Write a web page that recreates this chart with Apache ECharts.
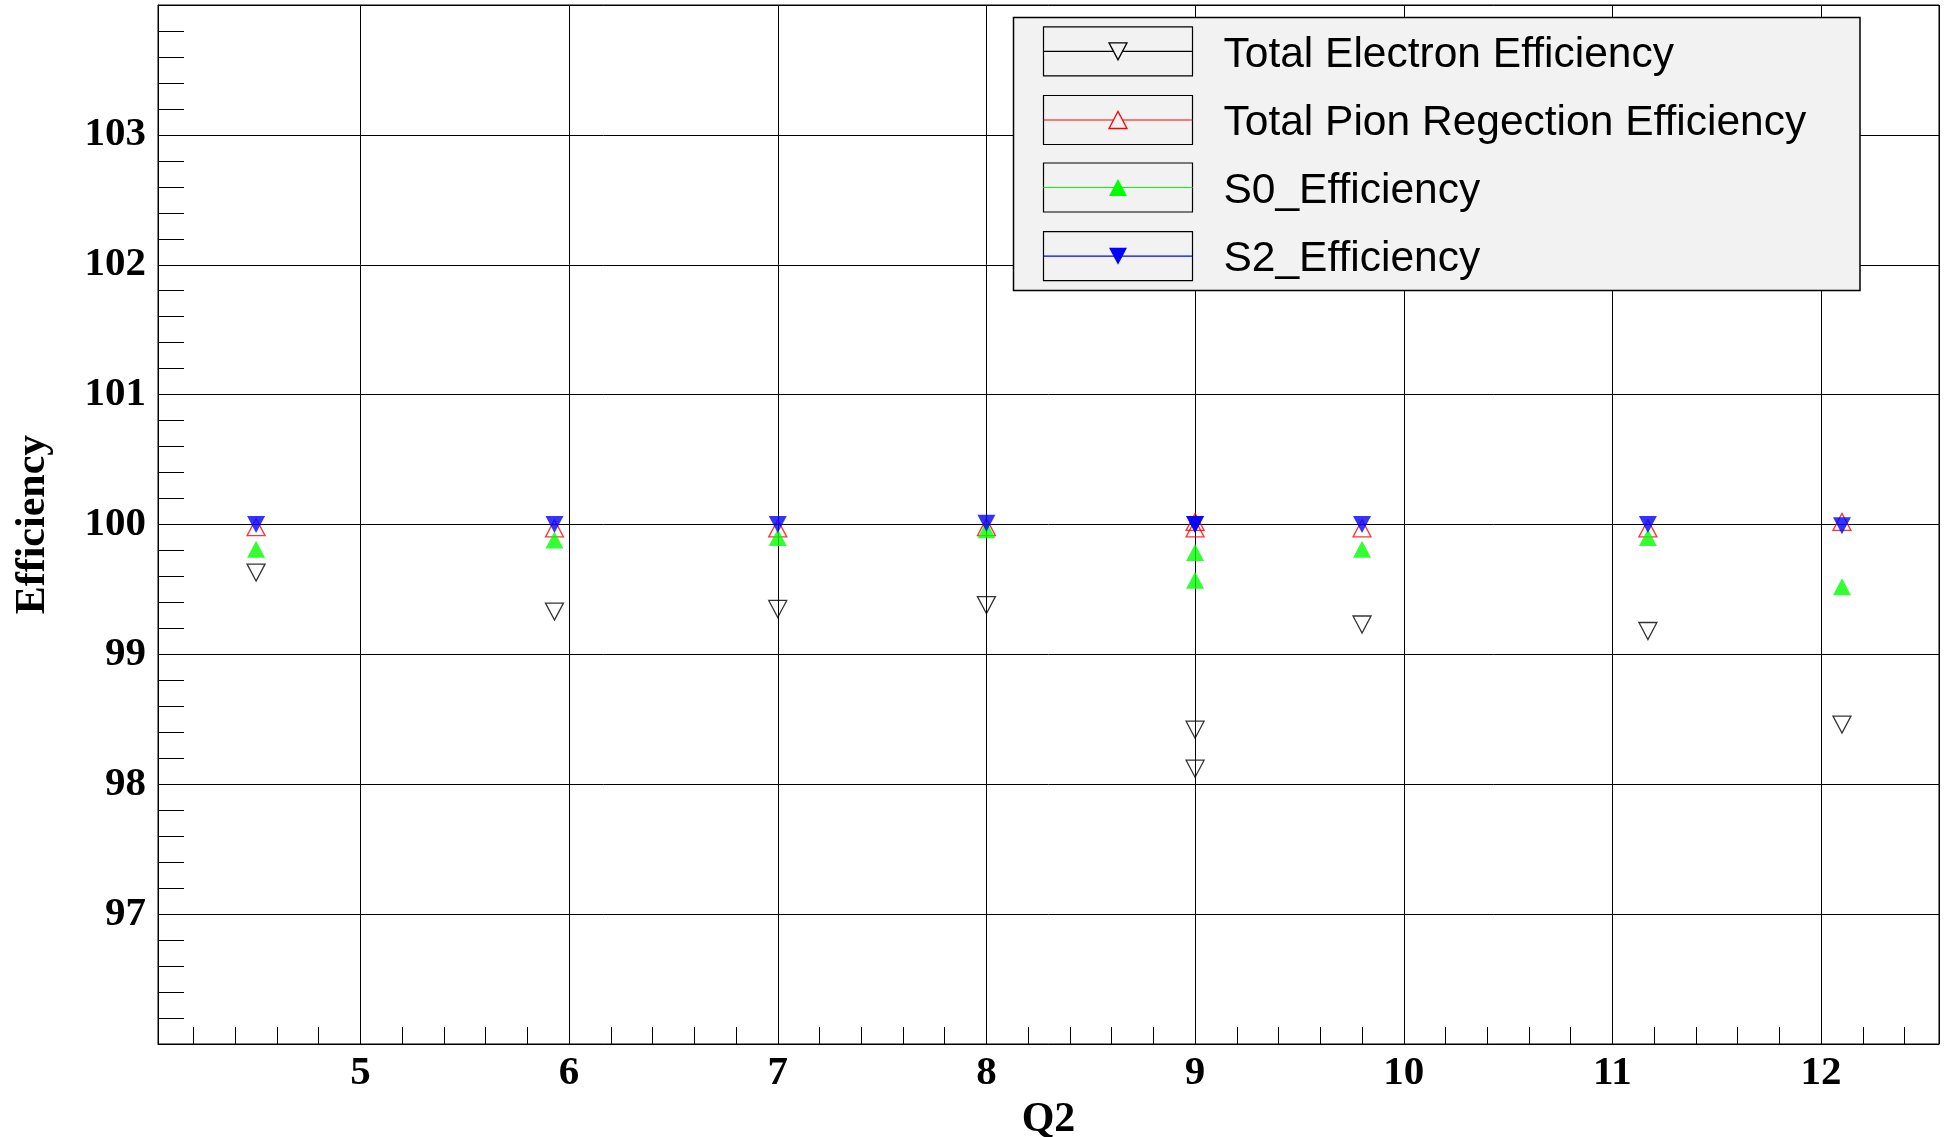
<!DOCTYPE html>
<html>
<head>
    <meta charset="utf-8">
    <title>Efficiency vs Q2</title>
    <script src="https://cdn.jsdelivr.net/npm/echarts@6/dist/echarts.min.js"></script>
    <style>
        html, body { margin: 0; padding: 0; background: #fff; }
        #chart { width: 1948px; height: 1137px; }
    </style>
</head>
<body>
    <div id="chart"></div>
    <script>
        // Q2 bins (two runs at Q2 = 9)
        var q2 = [4.5, 5.93, 7.0, 8.0, 9.0, 9.0, 9.8, 11.17, 12.1];

        var electronEff = [99.63, 99.33, 99.35, 99.38, 98.42, 98.12, 99.23, 99.18, 98.46];
        var pionRejEff  = [99.98, 99.97, 99.97, 99.98, 100.02, 99.97, 99.97, 99.97, 100.02];
        var s0Eff       = [99.81, 99.88, 99.90, 99.96, 99.785, 99.57, 99.81, 99.90, 99.52];
        var s2Eff       = [100.0, 100.0, 100.0, 100.01, 100.0, 100.0, 100.0, 100.0, 99.99];

        var seriesNames = ['Total Electron Efficiency', 'Total Pion Regection Efficiency', 'S0_Efficiency', 'S2_Efficiency'];
        var seriesColors = ['#000000', '#ff0000', '#00ff00', '#0000ff'];
        var seriesFilled = [false, false, true, true];
        var seriesDown = [true, false, false, true];
        var seriesValues = [electronEff, pionRejEff, s0Eff, s2Eff];

        var xRange = [4.03, 12.565];
        var yRange = [96, 104];

        function pairs(ys) {
            var out = [];
            for (var i = 0; i < q2.length; i++) out.push([q2[i], ys[i]]);
            return out;
        }

        var series = [];
        for (var s = 0; s < seriesNames.length; s++) {
            series.push({
                name: seriesNames[s],
                type: 'scatter',
                data: pairs(seriesValues[s]),
                symbol: 'triangle',
                symbolRotate: seriesDown[s] ? 180 : 0,
                symbolSize: [18, 17],
                z: 2 + s,
                itemStyle: seriesFilled[s]
                    ? { color: seriesColors[s], borderWidth: 0 }
                    : { color: 'rgba(255,255,255,0)', borderColor: seriesColors[s], borderWidth: 1.3 }
            });
        }

        // ROOT style legend box drawn by hand
        var legendLeft = 1013.5, legendTop = 17.5, legendW = 846.5, legendH = 273;
        var rowCenters = [51.3, 120, 187.5, 256.2];
        var graphics = [{
            type: 'rect',
            shape: { x: legendLeft, y: legendTop, width: legendW, height: legendH },
            style: { fill: '#f2f2f2', stroke: '#000', lineWidth: 1.5 },
            z: 20
        }];
        for (var k = 0; k < seriesNames.length; k++) {
            var cy = rowCenters[k], cx = 1118;
            graphics.push({
                type: 'rect',
                shape: { x: 1043.5, y: cy - 24.5, width: 149, height: 49 },
                style: { fill: '#f2f2f2', stroke: '#000', lineWidth: 1.2 },
                z: 21
            });
            graphics.push({
                type: 'line',
                shape: { x1: 1043.5, y1: cy, x2: 1192.5, y2: cy },
                style: { stroke: seriesColors[k], lineWidth: 1.2 },
                z: 22
            });
            var pts = seriesDown[k]
                ? [[cx - 9, cy - 8.5], [cx + 9, cy - 8.5], [cx, cy + 8.5]]
                : [[cx - 9, cy + 8.5], [cx + 9, cy + 8.5], [cx, cy - 8.5]];
            graphics.push({
                type: 'polygon',
                shape: { points: pts },
                style: seriesFilled[k]
                    ? { fill: seriesColors[k] }
                    : { fill: '#f2f2f2', stroke: seriesColors[k], lineWidth: 1.3 },
                z: 23
            });
            graphics.push({
                type: 'text',
                x: 1223.5,
                y: cy + 3.5,
                style: {
                    text: seriesNames[k],
                    fontFamily: 'Liberation Sans',
                    fontSize: 42.5,
                    fill: '#000',
                    verticalAlign: 'middle',
                    align: 'left'
                },
                z: 23
            });
        }

        var labelFont = { fontFamily: 'Liberation Serif', fontWeight: 'bold', fontSize: 41, color: '#000' };
        var nameFont = { fontFamily: 'Liberation Serif', fontWeight: 'bold', fontSize: 42, color: '#000' };

        var myChart = echarts.init(document.getElementById('chart'));
        var option = {
            animation: false,
            backgroundColor: '#fff',
            grid: {
                left: 158, right: 9, top: 5, bottom: 93,
                outerBoundsMode: 'none',
                show: true, borderColor: '#000', borderWidth: 1
            },
            xAxis: {
                type: 'value',
                min: xRange[0],
                max: xRange[1],
                splitNumber: 8,
                minInterval: 1,
                maxInterval: 1,
                name: 'Q2',
                nameLocation: 'middle',
                nameGap: 43,
                nameTextStyle: nameFont,
                axisLine: { lineStyle: { color: '#000', width: 1 } },
                axisTick: { inside: true, length: 17, lineStyle: { color: '#000' } },
                minorTick: { show: true, splitNumber: 5, length: 17, lineStyle: { color: '#000' } },
                splitLine: { show: true, lineStyle: { color: '#000', width: 1 } },
                axisLabel: Object.assign({
                    margin: 9,
                    formatter: function (v) { return Number.isInteger(v) ? String(v) : ''; }
                }, labelFont)
            },
            yAxis: {
                type: 'value',
                min: yRange[0],
                max: yRange[1],
                interval: 1,
                name: 'Efficiency',
                nameLocation: 'middle',
                nameGap: 104,
                nameTextStyle: nameFont,
                axisLine: { show: true, lineStyle: { color: '#000', width: 1 } },
                axisTick: { inside: true, length: 26, lineStyle: { color: '#000' } },
                minorTick: { show: true, splitNumber: 5, length: 26, lineStyle: { color: '#000' } },
                splitLine: { show: true, lineStyle: { color: '#000', width: 1 } },
                axisLabel: Object.assign({
                    margin: 12,
                    formatter: function (v) { return (v > yRange[0] && v < yRange[1]) ? String(v) : ''; }
                }, labelFont)
            },
            graphic: graphics,
            series: series
        };
        myChart.setOption(option);
    </script>
</body>
</html>
